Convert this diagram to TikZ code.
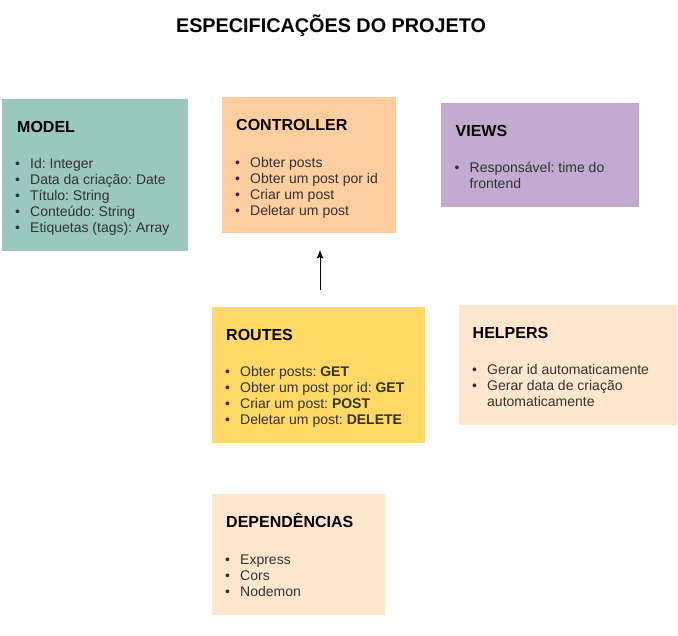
\documentclass[tikz,border=0pt]{standalone}
\usepackage{fontspec}
\setmainfont{Liberation Sans}
\usepackage{xcolor}
\usetikzlibrary{arrows.meta}
\definecolor{modelcol}{HTML}{9AC7BF}
\definecolor{ctrlcol}{HTML}{FFCE9F}
\definecolor{viewcol}{HTML}{C3ABD0}
\definecolor{routecol}{HTML}{FFD966}
\definecolor{helpcol}{HTML}{FFE6CC}
\definecolor{textgray}{HTML}{333333}
\newcommand{\bul}{\makebox[15pt][l]{\textbullet}}
\newcommand{\nobul}{\hspace*{15pt}}
\frenchspacing

\begin{document}
\begin{tikzpicture}
        [x=1pt,y=-1pt,
         box/.style={rectangle,draw=none,anchor=north west,inner sep=0pt},
         head/.style={anchor=base west,inner sep=0pt,font=\fontsize{16}{16}\selectfont\bfseries},
         item/.style={anchor=base west,inner sep=0pt,text=textgray,font=\fontsize{14}{16}\selectfont}]
        \useasboundingbox (0,0) rectangle (678,636);
        \node[anchor=base,inner sep=0pt,font=\fontsize{19.8}{20}\selectfont\bfseries] (title) at (331,32.7) {ESPECIFICAÇÕES DO PROJETO};

        % model
        \node[box,fill=modelcol,minimum width=186pt,minimum height=152pt] (model) at (2,99) {};
        \node[head] (modelhead) at (17,132.5) {MODEL};
        \foreach \t [count=\i from 0] in {Id: Integer,Data da criação: Date,Título: String,Conteúdo: String,Etiquetas (tags): Array}
          \node[item] (model\i) at (15,{169+16*\i}) {\bul\t};

        % controller
        \node[box,fill=ctrlcol,minimum width=174pt,minimum height=136pt] (ctrl) at (222,97) {};
        \node[head] (ctrlhead) at (236,130.5) {CONTROLLER};
        \foreach \t [count=\i from 0] in {Obter posts,Obter um post por id,Criar um post,Deletar um post}
          \node[item] (ctrl\i) at (235,{167.5+16*\i}) {\bul\t};

        % views
        \node[box,fill=viewcol,minimum width=198pt,minimum height=104pt] (views) at (441,103) {};
        \node[head] (viewshead) at (455.5,136.5) {VIEWS};
        \foreach \t [count=\i from 0] in {\bul Responsável: time do,\nobul frontend}
          \node[item] (views\i) at (454.5,{173+16*\i}) {\t};

        % routes
        \node[box,fill=routecol,minimum width=213pt,minimum height=136pt] (routes) at (212,307) {};
        \node[head] (routeshead) at (226,340.5) {ROUTES};
        \foreach \t [count=\i from 0] in {Obter posts: \textbf{GET},Obter um post por id: \textbf{GET},Criar um post: \textbf{POST},Deletar um post: \textbf{DELETE}}
          \node[item] (routes\i) at (225,{377+16*\i}) {\bul\t};

        % helpers
        \node[box,fill=helpcol,minimum width=218pt,minimum height=120pt] (helpers) at (459,305) {};
        \node[head] (helpershead) at (472.5,338.5) {HELPERS};
        \foreach \t [count=\i from 0] in {\bul Gerar id automaticamente,\bul Gerar data de criação,\nobul automaticamente}
          \node[item] (helpers\i) at (472,{375+16*\i}) {\t};

        % dependencias
        \node[box,fill=helpcol,minimum width=173pt,minimum height=121pt] (deps) at (212,494) {};
        \node[head] (depshead) at (226,527.5) {DEPENDÊNCIAS};
        \foreach \t [count=\i from 0] in {Express,Cors,Nodemon}
          \node[item] (deps\i) at (225,{564+16*\i}) {\bul\t};

        \coordinate (arrowfrom) at (320,290);
        \coordinate (arrowto) at (320,250.5);
        \draw[line width=1pt,-{Stealth[length=8pt,width=6.5pt,inset=1.5pt]}] (arrowfrom) -- (arrowto);
\end{tikzpicture}
\end{document}
